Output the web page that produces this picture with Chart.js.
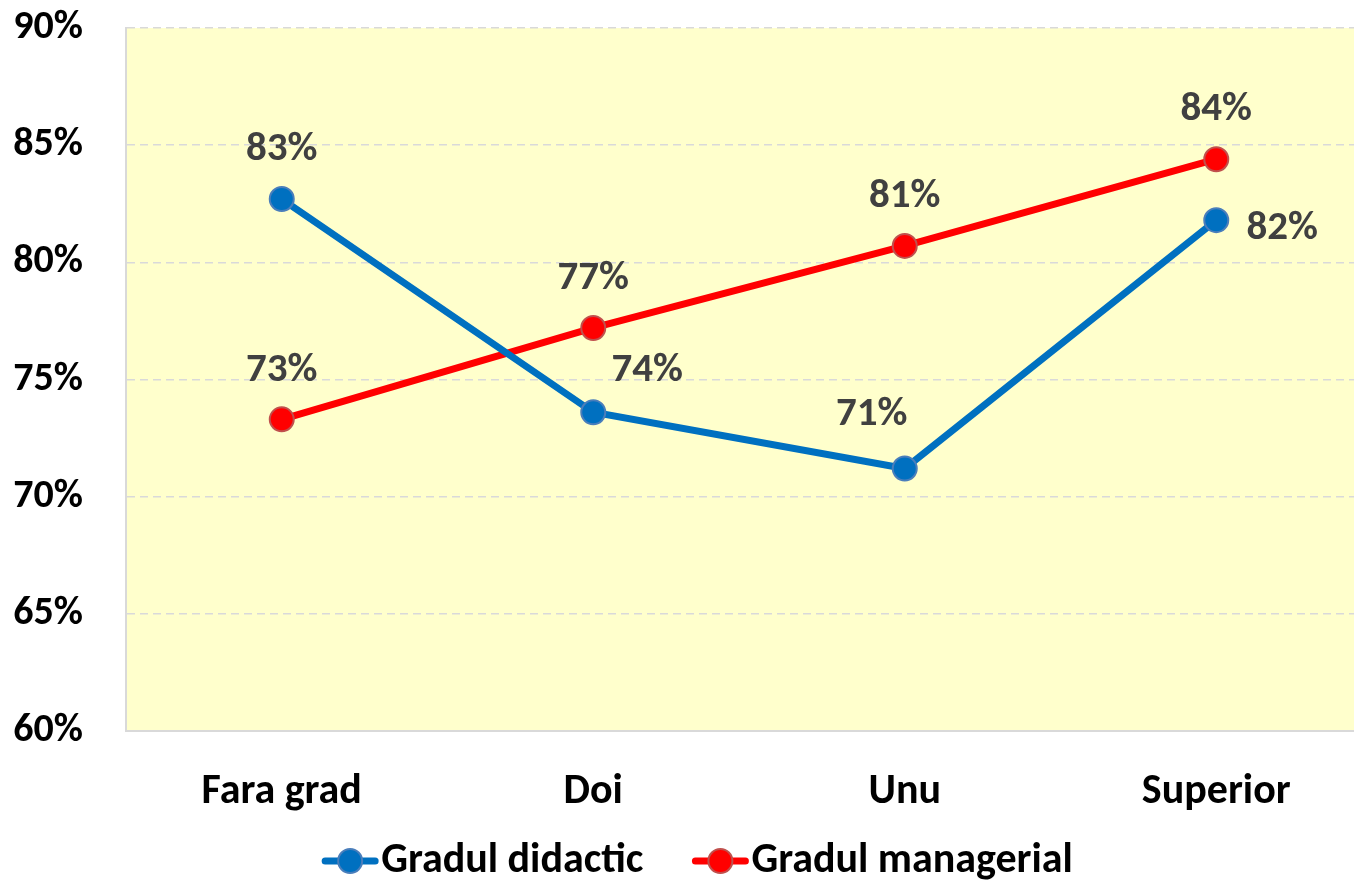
<!DOCTYPE html>
<html>
<head>
<meta charset="utf-8">
<script src="https://cdn.jsdelivr.net/npm/chart.js@4/dist/chart.umd.min.js"></script>
<style>
  html, body { margin: 0; padding: 0; background: #fff; overflow: hidden; }
  canvas { display: block; }
</style>
</head>
<body>
<canvas id="chart" width="1380" height="881"></canvas>
<script>
const categories = ["Fara grad", "Doi", "Unu", "Superior"];
const didactic = [82.7, 73.6, 71.2, 81.8];
const managerial = [73.3, 77.2, 80.7, 84.4];
const yTicks = [60, 65, 70, 75, 80, 85, 90];

// where each value label sits relative to its point
const didacticLabelPos = ["above", "aboveRight", "aboveLeft", "right"];
const managerialLabelPos = ["above", "above", "above", "above"];

const FONT = "Carlito, 'Open Sans', sans-serif";
const BLUE = "#0070c0";
const RED = "#ff0000";

const plotBg = {
  id: "plotBg",
  beforeDraw(chart) {
    const a = chart.chartArea, ctx = chart.ctx;
    ctx.save();
    ctx.fillStyle = "#ffffcc";
    ctx.fillRect(a.left, a.top, a.right - a.left, a.bottom - a.top);
    ctx.restore();
  }
};

const OFFSETS = {
  above: [0, -49],
  aboveRight: [54, -42],
  aboveLeft: [-33, -54],
  right: [66, 9]
};

const valueLabels = {
  id: "valueLabels",
  afterDatasetsDraw(chart) {
    const ctx = chart.ctx;
    ctx.save();
    ctx.font = "bold 41px " + FONT;
    ctx.fillStyle = "#404040";
    ctx.textAlign = "center";
    ctx.textBaseline = "middle";
    chart.data.datasets.forEach((ds, i) => {
      chart.getDatasetMeta(i).data.forEach((pt, j) => {
        const o = OFFSETS[ds.labelPos[j]];
        ctx.fillText(Math.round(ds.data[j]) + "%", pt.x + o[0], pt.y + o[1]);
      });
    });
    ctx.restore();
  }
};

// Excel-style legend: line with a dot, text right next to it
const lineLegend = {
  id: "lineLegend",
  afterDraw(chart) {
    const ctx = chart.ctx;
    const y = chart.chartArea.bottom + 130;
    ctx.save();
    ctx.font = "bold 42px " + FONT;
    ctx.textBaseline = "middle";
    const items = chart.data.datasets.map(ds => ({ ds, w: ctx.measureText(ds.label).width }));
    const markW = 58, gap = 2, spacing = 48;
    const total = items.reduce((s, it) => s + markW + gap + it.w, 0) + spacing * (items.length - 1);
    let x = 697 - total / 2;
    items.forEach(({ ds, w }) => {
      ctx.strokeStyle = ds.borderColor;
      ctx.lineWidth = 7;
      ctx.lineCap = "round";
      ctx.beginPath(); ctx.moveTo(x + 4, y); ctx.lineTo(x + markW - 4, y); ctx.stroke();
      ctx.fillStyle = ds.borderColor;
      ctx.strokeStyle = ds.pointBorderColor;
      ctx.lineWidth = 2;
      ctx.beginPath(); ctx.arc(x + markW / 2, y, 12, 0, Math.PI * 2); ctx.fill(); ctx.stroke();
      ctx.fillStyle = "#000";
      ctx.textAlign = "left";
      ctx.fillText(ds.label, x + markW + gap, y);
      x += markW + gap + w + spacing;
    });
    ctx.restore();
  }
};

new Chart(document.getElementById("chart"), {
  type: "line",
  data: {
    labels: categories,
    datasets: [
      {
        label: "Gradul didactic",
        data: didactic,
        labelPos: didacticLabelPos,
        borderColor: BLUE,
        backgroundColor: BLUE,
        borderWidth: 7,
        pointRadius: 12,
        pointBorderWidth: 2,
        pointBorderColor: "#4a7ebb",
        pointBackgroundColor: BLUE
      },
      {
        label: "Gradul managerial",
        data: managerial,
        labelPos: managerialLabelPos,
        borderColor: RED,
        backgroundColor: RED,
        borderWidth: 7,
        pointRadius: 12,
        pointBorderWidth: 2,
        pointBorderColor: "#c0504d",
        pointBackgroundColor: RED
      }
    ]
  },
  options: {
    responsive: false,
    animation: false,
    layout: { autoPadding: false, padding: { top: 28, right: 8, left: 0, bottom: 48 } },
    plugins: {
      tooltip: { enabled: false },
      legend: { display: false }
    },
    scales: {
      x: {
        offset: true,
        grid: { display: true, drawOnChartArea: false, drawTicks: false },
        border: { display: true, color: "#d9d9d9", width: 2 },
        ticks: {
          padding: 36,
          color: "#000",
          font: { family: FONT, size: 42, weight: "bold" }
        },
        afterFit(scale) {
          scale.height = 102;
          scale.paddingLeft = 0;
          scale.paddingRight = 0;
        }
      },
      y: {
        min: yTicks[0],
        max: yTicks[yTicks.length - 1],
        afterBuildTicks(scale) { scale.ticks = yTicks.map(v => ({ value: v })); },
        grid: { color: "#d9d9d9", lineWidth: 1.5, drawTicks: false },
        border: { display: true, color: "#d9d9d9", width: 2, dash: [8, 5] },
        ticks: {
          padding: 43,
          color: "#000",
          font: { family: FONT, size: 40, weight: "bold" },
          callback: v => v + "%"
        },
        afterFit(scale) {
          scale.width = 126;
          scale.paddingTop = 0;
          scale.paddingBottom = 0;
        }
      }
    }
  },
  plugins: [plotBg, valueLabels, lineLegend]
});
</script>
</body>
</html>
